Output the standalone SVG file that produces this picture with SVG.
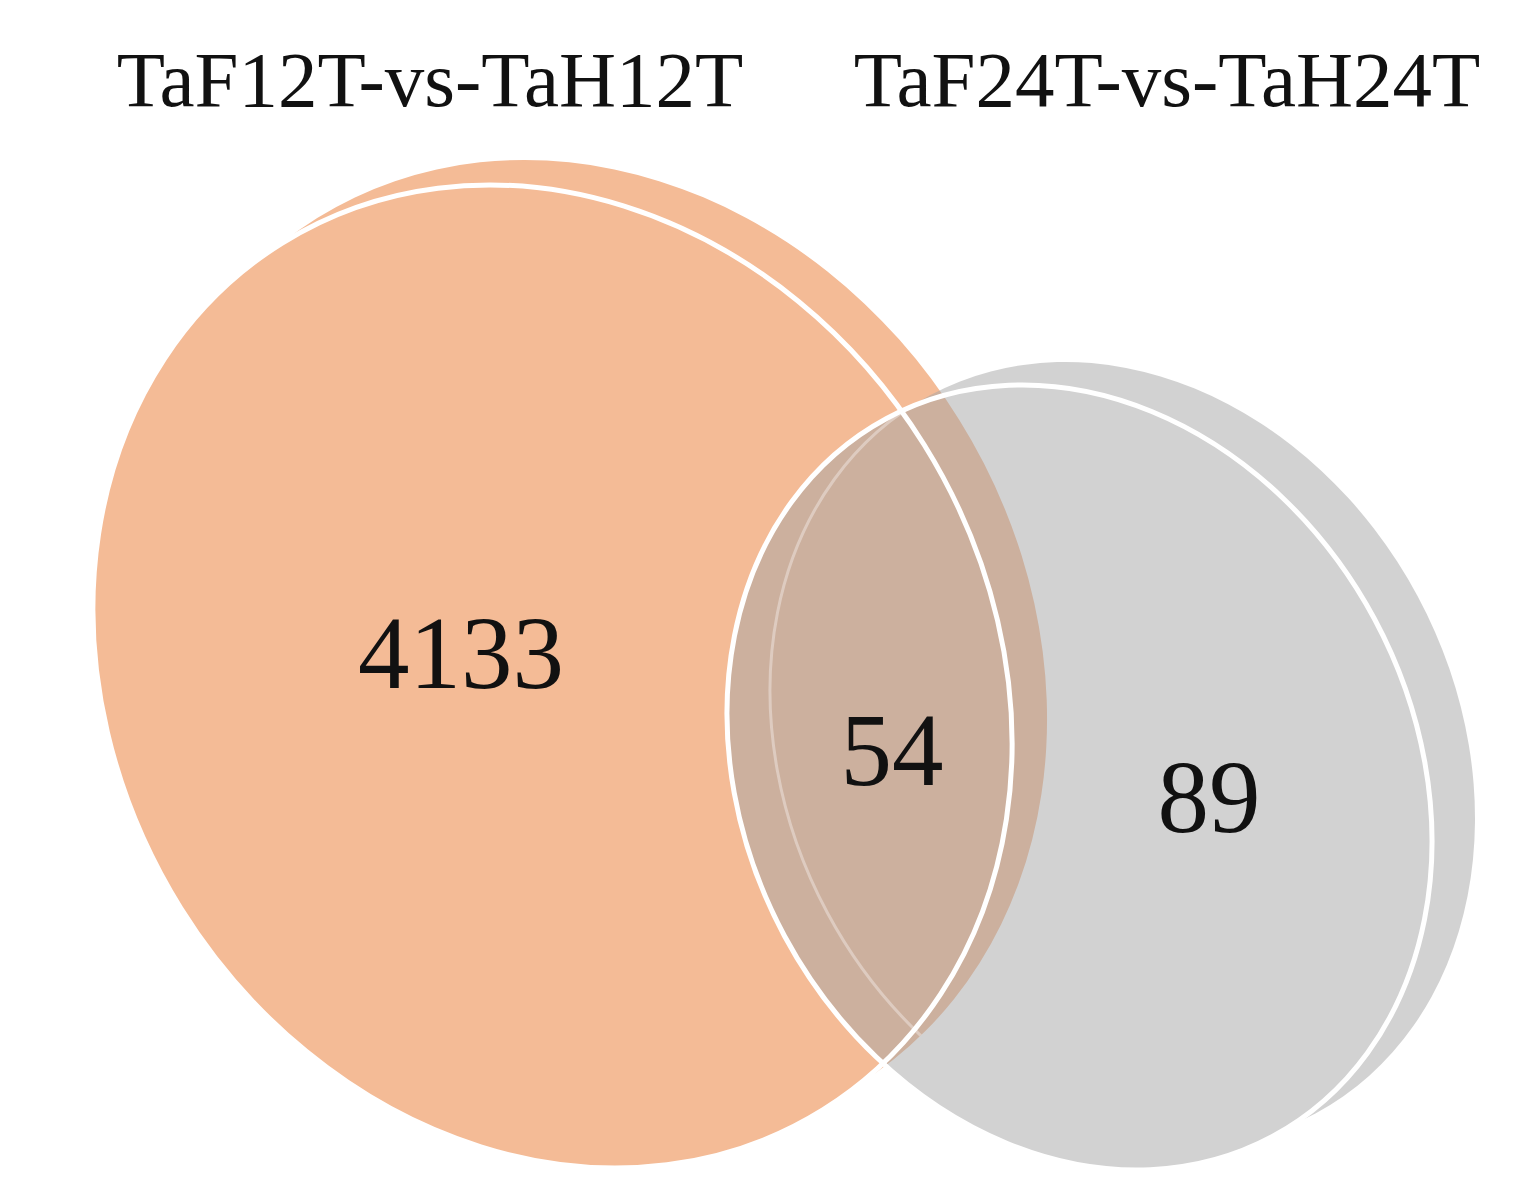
<svg xmlns="http://www.w3.org/2000/svg" width="1529" height="1204" viewBox="0 0 1529 1204">
<style>
.lbl{font-family:"Liberation Serif","Times New Roman",serif;font-size:79px;fill:#111;text-anchor:middle}
.num{font-family:"Liberation Serif","Times New Roman",serif;font-size:103px;fill:#111;text-anchor:middle}
.outline{fill:none;stroke:#ffffff;stroke-width:5}
.seam{fill:none;stroke:#ffffff;stroke-width:3;stroke-opacity:0.35}
</style>
<defs>
<clipPath id="s2clip"><ellipse cx="1079.5" cy="777.5" rx="334.9" ry="407.6" transform="rotate(-28.25 1079.5 777.5)"/></clipPath>
<clipPath id="aclip">
<ellipse cx="587.5" cy="651.5" rx="438" ry="510.8" transform="rotate(-31.95 587.5 651.5)"/>
<ellipse cx="552.5" cy="676.5" rx="438" ry="510.8" transform="rotate(-31.95 552.5 676.5)"/>
</clipPath>
</defs>
<rect width="1529" height="1204" fill="#ffffff"/>
<g id="set-a" fill="#F4BB96">
<ellipse cx="587.5" cy="651.5" rx="438" ry="510.8" transform="rotate(-31.95 587.5 651.5)"/>
<ellipse cx="552.5" cy="676.5" rx="438" ry="510.8" transform="rotate(-31.95 552.5 676.5)"/>
</g>
<g id="set-b" opacity="0.5" fill="#A6A6A6">
<ellipse cx="1122.5" cy="754.5" rx="334.9" ry="407.6" transform="rotate(-28.25 1122.5 754.5)"/>
<ellipse cx="1079.5" cy="777.5" rx="334.9" ry="407.6" transform="rotate(-28.25 1079.5 777.5)"/>
</g>
<g id="seam" clip-path="url(#s2clip)">
<g clip-path="url(#aclip)">
<ellipse class="seam" cx="1122.5" cy="754.5" rx="334.9" ry="407.6" transform="rotate(-28.25 1122.5 754.5)"/>
</g>
</g>
<g id="outlines">
<ellipse class="outline" cx="552.5" cy="676.5" rx="438" ry="510.8" transform="rotate(-31.95 552.5 676.5)"/>
<ellipse class="outline" cx="1079.5" cy="777.5" rx="334.9" ry="407.6" transform="rotate(-28.25 1079.5 777.5)"/>
</g>
<g id="labels">
<text class="lbl" x="430" y="106">TaF12T-vs-TaH12T</text>
<text class="lbl" x="1167" y="106">TaF24T-vs-TaH24T</text>
<text class="num" x="461" y="688">4133</text>
<text class="num" x="892" y="785">54</text>
<text class="num" x="1209" y="832">89</text>
</g>
</svg>
